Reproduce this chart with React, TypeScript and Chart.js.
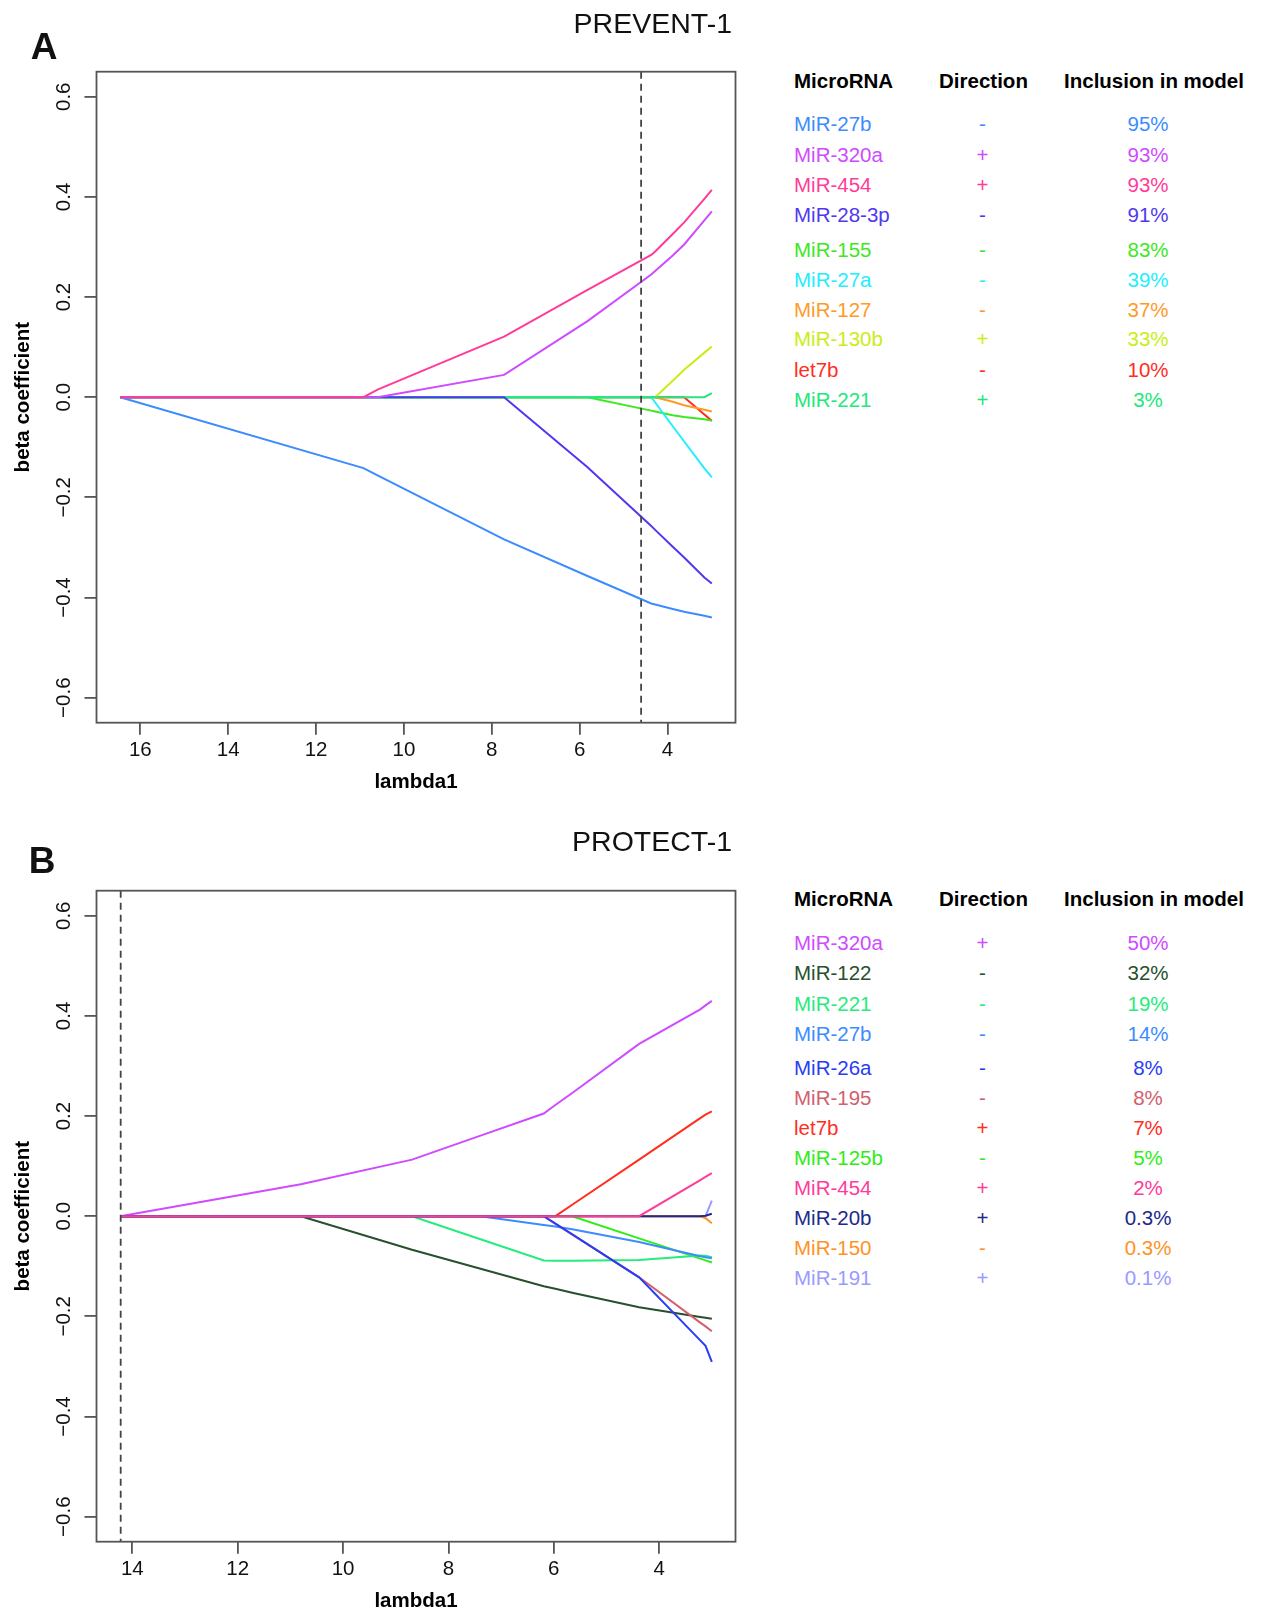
import React, { useEffect, useRef } from "react";
import { Chart, registerables } from "chart.js";

Chart.register(...registerables);

const FONT = "'Liberation Sans', Arial, Helvetica, sans-serif";

// ---------------- Panel A : PREVENT-1 ----------------
const lambdaA = [16.46, 10.92, 10.6, 7.72, 5.82, 4.37, 4.28, 3.88, 3.62, 3.16, 2.99];
const namesA = ["MiR-27b", "MiR-320a", "MiR-454", "MiR-28-3p", "MiR-155", "MiR-27a", "MiR-127", "MiR-130b", "let7b", "MiR-221"];
const directionA = ["-", "+", "+", "-", "-", "-", "-", "+", "-", "+"];
const inclusionA = ["95%", "93%", "93%", "91%", "83%", "39%", "37%", "33%", "10%", "3%"];
const colorsA = ["#3d8cff", "#cf4bff", "#ff3c9a", "#5038f0", "#3de820", "#22eeff", "#ff9a28", "#c8ee16", "#ff2e1e", "#22e87a"];
const layerA = [5, 1, 0, 2, 6, 4, 7, 8, 9, 3];
const betaA_miR27b = [0, -0.1415, -0.156, -0.284, -0.357, -0.412, -0.414, -0.423, -0.4285, -0.4365, -0.44];
const betaA_miR320a = [0, 0, 0, 0.0446, 0.152, 0.245, 0.252, 0.283, 0.305, 0.353, 0.371];
const betaA_miR454 = [0, 0, 0.015, 0.121, 0.2145, 0.284, 0.291, 0.326, 0.349, 0.396, 0.414];
const betaA_miR28_3p = [0, 0, 0, 0, -0.14, -0.257, -0.265, -0.2985, -0.32, -0.36, -0.372];
const betaA_miR155 = [0, 0, 0, 0, 0, -0.0268, -0.0285, -0.036, -0.0395, -0.044, -0.0467];
const betaA_miR27a = [0, 0, 0, 0, 0, 0, -0.0106, -0.058, -0.0885, -0.142, -0.16];
const betaA_miR127 = [0, 0, 0, 0, 0, 0, 0, -0.009, -0.016, -0.025, -0.0287];
const betaA_miR130b = [0, 0, 0, 0, 0, 0, 0, 0.033, 0.055, 0.089, 0.101];
const betaA_let7b = [0, 0, 0, 0, 0, 0, 0, 0, 0, -0.0347, -0.0473];
const betaA_miR221 = [0, 0, 0, 0, 0, 0, 0, 0, 0, 0, 0.008];
const betaA = [betaA_miR27b, betaA_miR320a, betaA_miR454, betaA_miR28_3p, betaA_miR155, betaA_miR27a, betaA_miR127, betaA_miR130b, betaA_let7b, betaA_miR221];
const selectedLambdaA = 4.6;
const xTicksA = [16, 14, 12, 10, 8, 6, 4];

// ---------------- Panel B : PROTECT-1 ----------------
const lambdaB = [14.23, 10.8, 8.69, 7.39, 6.19, 5.97, 5.65, 4.38, 3.22, 3.12, 3.0];
const namesB = ["MiR-320a", "MiR-122", "MiR-221", "MiR-27b", "MiR-26a", "MiR-195", "let7b", "MiR-125b", "MiR-454", "MiR-20b", "MiR-150", "MiR-191"];
const directionB = ["+", "-", "-", "-", "-", "-", "+", "-", "+", "+", "-", "+"];
const inclusionB = ["50%", "32%", "19%", "14%", "8%", "8%", "7%", "5%", "2%", "0.3%", "0.3%", "0.1%"];
const colorsB = ["#cf4bff", "#27502d", "#25ec7c", "#3d8cff", "#2a3cf5", "#d2606e", "#ff2e1e", "#30ec18", "#ff3c9a", "#202a8c", "#ff9225", "#9a9aff"];
const layerB = [2, 9, 7, 6, 3, 4, 5, 8, 0, 1, 10, 11];
const betaB_miR320a = [0, 0.064, 0.113, 0.161, 0.205, 0.222, 0.246, 0.344, 0.413, 0.421, 0.43];
const betaB_miR122 = [0, 0, -0.067, -0.105, -0.14, -0.145, -0.153, -0.182, -0.2015, -0.203, -0.205];
const betaB_miR221 = [0, 0, 0, -0.046, -0.0885, -0.089, -0.089, -0.0875, -0.0785, -0.079, -0.082];
const betaB_miR27b = [0, 0, 0, 0, -0.0174, -0.0206, -0.026, -0.0515, -0.08, -0.082, -0.084];
const betaB_miR26a = [0, 0, 0, 0, 0, -0.0148, -0.0364, -0.122, -0.248, -0.259, -0.291];
const betaB_miR195 = [0, 0, 0, 0, 0, -0.0148, -0.0364, -0.122, -0.2125, -0.22, -0.2296];
const betaB_let7b = [0, 0, 0, 0, 0, 0, 0.0228, 0.113, 0.196, 0.203, 0.2095];
const betaB_miR125b = [0, 0, 0, 0, 0, 0, 0, -0.0443, -0.0848, -0.0883, -0.0925];
const betaB_miR454 = [0, 0, 0, 0, 0, 0, 0, 0, 0.0722, 0.0784, 0.0859];
const betaB_miR20b = [0, 0, 0, 0, 0, 0, 0, 0, 0, 0.001, 0.005];
const betaB_miR150 = [0, 0, 0, 0, 0, 0, 0, 0, 0, -0.004, -0.014];
const betaB_miR191 = [0, 0, 0, 0, 0, 0, 0, 0, 0, 0, 0.031];
const betaB = [betaB_miR320a, betaB_miR122, betaB_miR221, betaB_miR27b, betaB_miR26a, betaB_miR195, betaB_let7b, betaB_miR125b, betaB_miR454, betaB_miR20b, betaB_miR150, betaB_miR191];
const selectedLambdaB = 14.22;
const xTicksB = [14, 12, 10, 8, 6, 4];

const yTicks = [-0.6, -0.4, -0.2, 0, 0.2, 0.4, 0.6];

function fmtY(v: number) {
  const s = Math.abs(v).toFixed(1);
  return v < 0 ? "\u2212" + s : s;
}

const CW = 760;
const CH = 795;
const AREA_LEFT = 96.5;
const AREA_RIGHT = 735.5;
const AREA_TOP = 71.7;
const AREA_BOTTOM = 722.7;

type PanelProps = {
  top: number;
  lambda: number[];
  betas: number[][];
  names: string[];
  colors: string[];
  layers: number[];
  selected: number;
  xTicks: number[];
};

function Panel({ top, lambda, betas, names, colors, layers, selected, xTicks }: PanelProps) {
  const ref = useRef<HTMLCanvasElement | null>(null);
  useEffect(() => {
    if (!ref.current) return;
    const lo = Math.min(...lambda);
    const hi = Math.max(...lambda);
    const pad = (hi - lo) * 0.04;
    const framePlugin = {
      id: "frame",
      afterDatasetsDraw(chart: any) {
        const { ctx, chartArea, scales } = chart;
        ctx.save();
        const xp = scales.x.getPixelForValue(selected);
        ctx.strokeStyle = "#444";
        ctx.lineWidth = 1.8;
        ctx.setLineDash([7, 5]);
        ctx.beginPath();
        ctx.moveTo(xp, chartArea.top);
        ctx.lineTo(xp, chartArea.bottom);
        ctx.stroke();
        ctx.setLineDash([]);
        ctx.strokeStyle = "#555";
        ctx.lineWidth = 1.8;
        ctx.strokeRect(chartArea.left, chartArea.top, chartArea.right - chartArea.left, chartArea.bottom - chartArea.top);
        ctx.fillStyle = "#111";
        ctx.font = `20.5px ${FONT}`;
        ctx.textAlign = "center";
        ctx.textBaseline = "middle";
        for (const v of yTicks) {
          const yp = scales.y.getPixelForValue(v);
          ctx.save();
          ctx.translate(64.5, yp);
          ctx.rotate(-Math.PI / 2);
          ctx.fillText(fmtY(v), 0, 0);
          ctx.restore();
        }
        ctx.restore();
      },
    };
    const chart = new Chart(ref.current, {
      type: "line",
      data: {
        datasets: betas.map((b, i) => ({
          label: names[i],
          data: lambda.map((x, j) => ({ x, y: b[j] })),
          borderColor: colors[i],
          backgroundColor: colors[i],
          borderWidth: 2,
          pointRadius: 0,
          tension: 0,
          fill: false,
          order: layers[i],
        })),
      },
      options: {
        animation: false,
        responsive: false,
        maintainAspectRatio: false,
        events: [],
        layout: { padding: { left: 0, top: AREA_TOP, right: CW - AREA_RIGHT, bottom: 0 } },
        plugins: { legend: { display: false }, tooltip: { enabled: false }, title: { display: false } },
        scales: {
          x: {
            type: "linear",
            reverse: true,
            min: lo - pad,
            max: hi + pad,
            afterBuildTicks: (s: any) => {
              s.ticks = xTicks.map((v) => ({ value: v }));
            },
            afterFit: (s: any) => {
              s.height = CH - AREA_BOTTOM;
            },
            border: { display: false },
            grid: { display: true, drawOnChartArea: false, drawTicks: true, tickLength: 12, color: "#555", lineWidth: 1.8 },
            ticks: {
              autoSkip: false,
              maxRotation: 0,
              padding: 3,
              color: "#111",
              font: { family: FONT, size: 20.5 },
              callback: (v: any) => String(v),
            },
            title: {
              display: true,
              text: "lambda1",
              color: "#000",
              font: { family: FONT, size: 20.5, weight: "bold" },
              padding: { top: 0, bottom: 0 },
            },
          },
          y: {
            type: "linear",
            min: -0.65,
            max: 0.65,
            afterBuildTicks: (s: any) => {
              s.ticks = yTicks.map((v) => ({ value: v }));
            },
            afterFit: (s: any) => {
              s.width = AREA_LEFT;
            },
            border: { display: false },
            grid: { display: true, drawOnChartArea: false, drawTicks: true, tickLength: 12, color: "#555", lineWidth: 1.8 },
            ticks: { display: false },
            title: {
              display: true,
              text: "beta coefficient",
              color: "#000",
              font: { family: FONT, size: 20.5, weight: "bold" },
              padding: { top: 10.7, bottom: 0 },
            },
          },
        },
      },
      plugins: [framePlugin],
    } as any);
    return () => chart.destroy();
  }, []);
  return (
    <canvas
      ref={ref}
      width={CW}
      height={CH}
      style={{ position: "absolute", left: 0, top, width: CW, height: CH }}
    />
  );
}

type TableProps = {
  headerY: number;
  rowYs: number[];
  names: string[];
  dirs: string[];
  incl: string[];
  colors: string[];
};

function Cell({ x, y, text, color, align, bold }: { x: number; y: number; text: string; color: string; align: "left" | "center"; bold?: boolean }) {
  return (
    <div
      style={{
        position: "absolute",
        left: x,
        top: y,
        transform: align === "center" ? "translate(-50%, -50%)" : "translate(0, -50%)",
        fontFamily: FONT,
        fontSize: 20.5,
        lineHeight: 1,
        fontWeight: bold ? "bold" : "normal",
        color,
        whiteSpace: "nowrap",
      }}
    >
      {text}
    </div>
  );
}

function Table({ headerY, rowYs, names, dirs, incl, colors }: TableProps) {
  return (
    <>
      <Cell x={794} y={headerY} text="MicroRNA" color="#000" align="left" bold />
      <Cell x={983.5} y={headerY} text="Direction" color="#000" align="center" bold />
      <Cell x={1154} y={headerY} text="Inclusion in model" color="#000" align="center" bold />
      {names.map((n, i) => (
        <React.Fragment key={n + i}>
          <Cell x={794} y={rowYs[i]} text={n} color={colors[i]} align="left" />
          <Cell x={982.5} y={rowYs[i]} text={dirs[i]} color={colors[i]} align="center" />
          <Cell x={1148} y={rowYs[i]} text={incl[i]} color={colors[i]} align="center" />
        </React.Fragment>
      ))}
    </>
  );
}

function Label({ x, y, text, size, bold, right }: { x: number; y: number; text: string; size: number; bold?: boolean; right?: boolean }) {
  return (
    <div
      style={{
        position: "absolute",
        left: x,
        top: y,
        transform: right ? "translate(-100%, -50%)" : "translate(-50%, -50%)",
        fontFamily: FONT,
        fontSize: size,
        lineHeight: 1,
        fontWeight: bold ? "bold" : "normal",
        color: "#111",
        whiteSpace: "nowrap",
      }}
    >
      {text}
    </div>
  );
}

export default function App() {
  return (
    <div style={{ position: "absolute", left: 0, top: 0, width: 1261, height: 1614, overflow: "hidden", background: "#fff" }}>
      <Panel top={0} lambda={lambdaA} betas={betaA} names={namesA} colors={colorsA} layers={layerA} selected={selectedLambdaA} xTicks={xTicksA} />
      <Panel top={819} lambda={lambdaB} betas={betaB} names={namesB} colors={colorsB} layers={layerB} selected={selectedLambdaB} xTicks={xTicksB} />
      <Label x={44} y={45.5} text="A" size={37} bold />
      <Label x={732} y={23} text="PREVENT-1" size={28.5} right />
      <Label x={42} y={860} text="B" size={37} bold />
      <Label x={732} y={841} text="PROTECT-1" size={28.5} right />
      <Table
        headerY={80.5}
        rowYs={[124.2, 154.8, 185, 215, 249.8, 279.8, 309.8, 339.3, 369.5, 399.5]}
        names={namesA}
        dirs={directionA}
        incl={inclusionA}
        colors={colorsA}
      />
      <Table
        headerY={898.7}
        rowYs={[943.2, 973.2, 1003.5, 1033.5, 1067.5, 1097.5, 1127.5, 1157.5, 1187.5, 1217.5, 1247.5, 1277.5]}
        names={namesB}
        dirs={directionB}
        incl={inclusionB}
        colors={colorsB}
      />
    </div>
  );
}
